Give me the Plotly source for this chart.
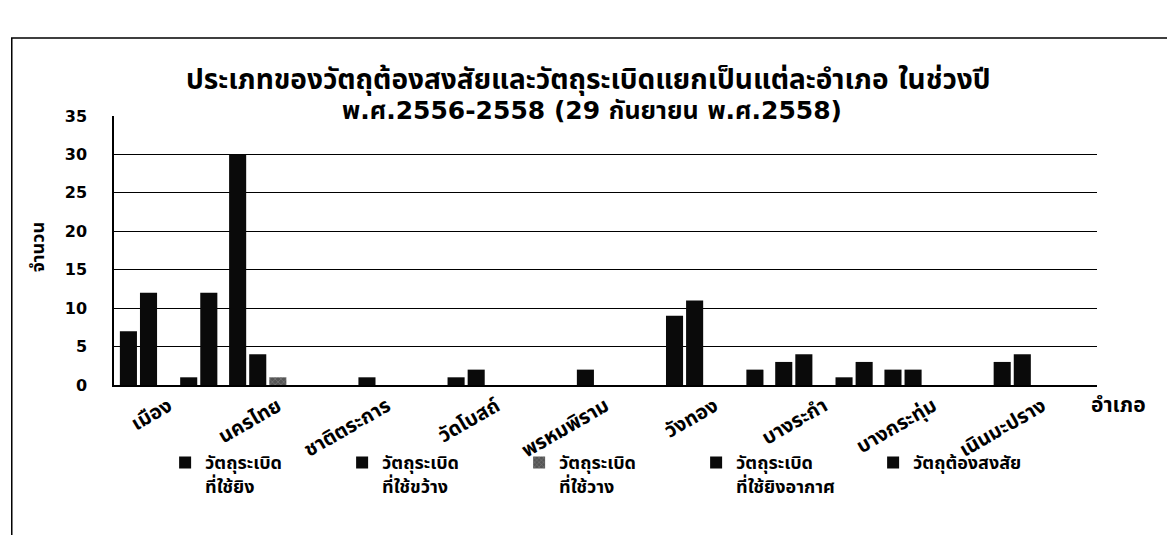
import plotly.graph_objects as go

districts = ["เมือง", "นครไทย", "ชาติตระการ", "วัดโบสถ์", "พรหมพิราม",
             "วังทอง", "บางระกำ", "บางกระทุ่ม", "เนินมะปราง"]
series_names = ["วัตถุระเบิด<br>ที่ใช้ยิง", "วัตถุระเบิด<br>ที่ใช้ขว้าง", "วัตถุระเบิด<br>ที่ใช้วาง",
                "วัตถุระเบิด<br>ที่ใช้ยิงอากาศ", "วัตถุต้องสงสัย"]
fire = [7, 30, 0, 1, 0, 9, 3, 2, 3]
throw = [12, 4, 1, 2, 2, 11, 4, 2, 4]
place = [0, 1, 0, 0, 0, 0, 0, 0, 0]
air = [1, 0, 0, 0, 0, 0, 1, 0, 0]
suspect = [12, 0, 0, 0, 0, 2, 3, 0, 0]
y_ticks = [0, 5, 10, 15, 20, 25, 30, 35]
title_lines = ["ประเภทของวัตถุต้องสงสัยและวัตถุระเบิดแยกเป็นแต่ละอำเภอ ในช่วงปี",
               "พ.ศ.2556-2558 (29 กันยายน พ.ศ.2558)"]

values = [fire, throw, place, air, suspect]
colors = ["#0a0a0a", "#0a0a0a", "#555555", "#0a0a0a", "#0a0a0a"]
patterns = ["", "", "x", "", ""]

FONT = "DejaVu Sans, Noto Sans Thai, Noto Sans, sans-serif"

fig = go.Figure()
for name, vals, c, p in zip(series_names, values, colors, patterns):
    fig.add_trace(go.Bar(
        x=districts, y=vals, name=name,
        marker=dict(color=c, line=dict(width=0),
                    pattern=dict(shape=p, fgcolor="#cccccc", size=4) if p else None),
    ))

fig.update_layout(
    width=1175, height=535,
    paper_bgcolor="white", plot_bgcolor="white",
    margin=dict(l=106, r=86, t=108, b=158),
    barmode="group", bargap=0.08, bargroupgap=0.15,
    font=dict(family=FONT, color="black", size=14),
    xaxis=dict(
        tickangle=-30, showgrid=False, showline=True, linecolor="black", linewidth=1.5,
        tickfont=dict(size=20, weight="bold"), ticks="", automargin=False,
    ),
    yaxis=dict(
        range=[0, 35], tickvals=y_ticks, showgrid=True, gridcolor="black", gridwidth=1,
        showline=True, linecolor="black", linewidth=1.5, ticks="", zeroline=False,
        tickfont=dict(size=16, weight="bold"), ticklabelstandoff=22,
        automargin=False,
    ),
    legend=dict(
        orientation="h", x=0.052, xanchor="left", y=-0.22, yanchor="top",
        entrywidth=132, entrywidthmode="pixels", traceorder="normal",
        font=dict(size=18, weight="bold"), itemwidth=30, valign="top",
        bgcolor="rgba(0,0,0,0)",
    ),
    showlegend=True,
)

fig.add_annotation(
    text=title_lines[0], xref="paper", yref="paper", x=0.483, y=1.134,
    xanchor="center", yanchor="middle", showarrow=False,
    font=dict(size=28, weight="bold"),
)
fig.add_annotation(
    text=title_lines[1], xref="paper", yref="paper", x=0.486, y=1.022,
    xanchor="center", yanchor="middle", showarrow=False,
    font=dict(size=25, weight="bold"),
)
fig.add_annotation(
    text="จำนวน", xref="paper", yref="paper", x=-0.078, y=0.513,
    xanchor="center", yanchor="middle", showarrow=False, textangle=-90,
    font=dict(size=18, weight="bold"),
)
fig.add_annotation(
    text="อำเภอ", xref="paper", yref="paper", x=1.022, y=-0.074,
    xanchor="center", yanchor="middle", showarrow=False,
    font=dict(size=21, weight="bold"),
)
fig.add_shape(
    type="rect", xref="paper", yref="paper",
    x0=-0.104, x1=1.2, y0=-0.65, y1=1.29,
    line=dict(color="black", width=1.5), layer="below",
)

fig.write_html("out.html")
